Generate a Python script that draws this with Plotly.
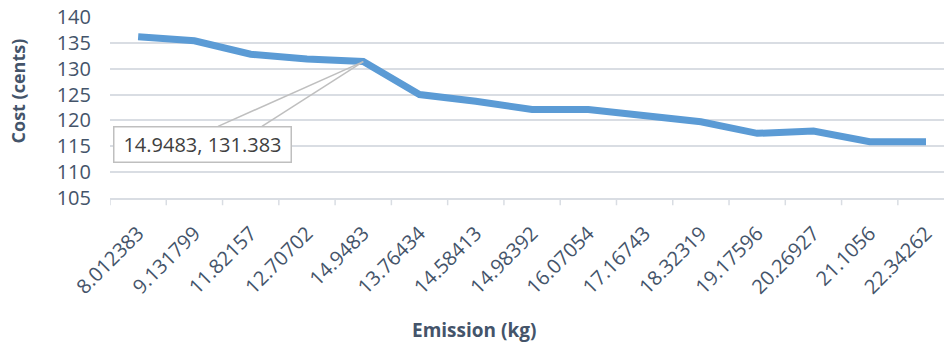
import plotly.graph_objects as go

# Emission (kg) categories in plotted order, with the matching cost (cents)
emission_labels = [
    "8.012383", "9.131799", "11.82157", "12.70702", "14.9483",
    "13.76434", "14.58413", "14.98392", "16.07054", "17.16743",
    "18.32319", "19.17596", "20.26927", "21.1056", "22.34262",
]
cost_cents = [
    136.2, 135.4, 132.8, 131.9, 131.383,
    125.0, 123.7, 122.1, 122.1, 120.8,
    119.75, 117.5, 117.95, 115.9, 115.9,
]
y_ticks = [105, 110, 115, 120, 125, 130, 135, 140]

# Highlighted point shown in the callout box
callout_idx = 4
callout_text = f"{emission_labels[callout_idx]}, {cost_cents[callout_idx]:g}"

FONT = "Open Sans"
TEXT = "#44546A"
GRID = "#D9DDE3"
LINE = "#5B9BD5"

fig = go.Figure()
fig.add_trace(go.Scatter(
    x=list(range(len(emission_labels))),
    y=cost_cents,
    mode="lines",
    line=dict(color=LINE, width=7),
    hoverinfo="x+y",
    showlegend=False,
))

# Callout box position (data units) and the leader lines to the point
box_x, box_y = 1.14, 115.4
fig.add_annotation(
    x=box_x, y=box_y, xref="x", yref="y",
    text=callout_text, showarrow=False,
    font=dict(family=FONT, size=20, color="#404040"),
    bgcolor="white", bordercolor="#BFBFBF", borderwidth=1.5,
    borderpad=0, width=176, height=34,
    xanchor="center", yanchor="middle",
)
for bx in (1.42, 2.2):
    fig.add_shape(
        type="line", xref="x", yref="y",
        x0=bx, y0=118.85, x1=callout_idx, y1=cost_cents[callout_idx],
        line=dict(color="#BFBFBF", width=1.5),
    )

# Axis titles
fig.add_annotation(
    text="<b>Cost (cents)</b>", xref="paper", yref="paper",
    x=-0.110, y=0.59, textangle=-90, showarrow=False,
    font=dict(family=FONT, size=18, color=TEXT),
    xanchor="center", yanchor="middle",
)
fig.add_annotation(
    text="<b>Emission (kg)</b>", xref="paper", yref="paper",
    x=0.4365, y=-0.73, showarrow=False,
    font=dict(family=FONT, size=19, color=TEXT),
    xanchor="center", yanchor="middle",
)

fig.update_xaxes(
    type="linear",
    tickmode="array",
    tickvals=list(range(len(emission_labels))),
    ticktext=emission_labels,
    range=[-0.5, 14.32],
    tickangle=-45,
    tickfont=dict(family=FONT, size=20, color=TEXT),
    showgrid=False, zeroline=False,
    showline=True, linecolor=GRID, linewidth=1.5,
    ticks="",
    ticklabelstandoff=14,
)
# boundary tick marks between categories
for k in range(len(emission_labels)):
    fig.add_shape(
        type="line", xref="x", yref="paper",
        x0=k - 0.5, x1=k - 0.5, y0=0, y1=-0.04,
        line=dict(color=GRID, width=1.5),
    )

fig.update_yaxes(
    range=[105, 140],
    tickmode="array", tickvals=y_ticks,
    tickfont=dict(family=FONT, size=20, color=TEXT),
    showgrid=True, gridcolor=GRID, gridwidth=1.5,
    zeroline=False, showline=False,
    ticklabelstandoff=18,
)

fig.update_layout(
    width=944, height=345,
    margin=dict(l=110, r=0, t=17, b=147),
    paper_bgcolor="white", plot_bgcolor="white",
    font=dict(family=FONT, color=TEXT),
)

fig.write_html("out.html")
